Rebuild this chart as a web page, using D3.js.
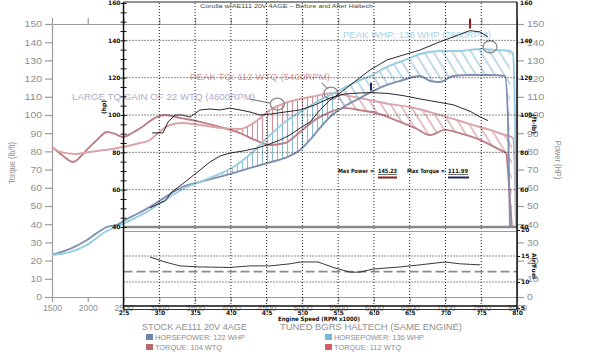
<!DOCTYPE html>
<html><head><meta charset="utf-8">
<script src="https://cdn.jsdelivr.net/npm/d3@7"></script>
<style>body{margin:0;background:#fff;} svg{display:block;}</style>
</head><body><svg id="c" width="600" height="355"></svg>
<script>
// ---------- DATA ----------
const rpmTicks = d3.range(1500, 8001, 500);
const bgTicks = d3.range(0, 151, 10);
const ovHpTicks = d3.range(40, 161, 20);
const ovMinorTicks = d3.range(40, 161, 5);
const ovRpmTicks = d3.range(2500, 8001, 500);
const afrTicks = [20, 15, 10, 5];

// background (before/after) curves: [rpm, value]
const stockTorque = [[1500,82.4],[1640,78],[1794,74.2],[1989,81],[2129,86.3],[2269,90.7],[2381,89.6],[2492,87.9],[2618,90.1],[2758,93.4],[2940,98.4],[3080,100],[3289,98.4],[3569,96.2],[3848,93.4],[4128,90.1],[4338,86.3],[4547,83.5],[4757,84.6],[4967,90.7],[5176,97.3],[5386,101.6],[5596,103.8],[5805,102.7],[6085,100.5],[6365,96.2],[6574,92.9],[6784,89],[6993,91.8],[7231,89.6],[7483,86.3],[7762,80.8],[7846,79.1],[7902,53.3],[7930,37.9]];
const tunedTorque = [[1500,82.4],[1612,79.7],[1821,78.6],[2031,79.7],[2241,80.8],[2492,82.4],[2730,84.6],[2870,86.3],[2982,90.1],[3149,94.5],[3317,95.6],[3569,94.5],[3848,92.9],[4128,92.3],[4338,96.2],[4547,102.7],[4757,106.6],[4967,108.8],[5176,110.4],[5400,112],[5665,110.4],[5945,108.2],[6225,106],[6504,104.4],[6784,101.6],[7063,98.4],[7343,95],[7622,91.8],[7832,89],[7944,87.4],[7972,64.3],[7986,37.9]];
const stockHp = [[1500,23.1],[1752,26.4],[1989,31.3],[2171,36.3],[2269,38.5],[2409,39.6],[2520,42.3],[2688,45.6],[2870,49.5],[3080,54.9],[3359,61],[3569,63.2],[4030,68.1],[4505,73.6],[4757,76.4],[4967,80.8],[5106,86.3],[5246,92.9],[5386,98.9],[5596,104.9],[5805,109.3],[6015,113.7],[6183,116.5],[6365,118.7],[6644,121.4],[6784,118.7],[6923,118.1],[7105,121.4],[7343,122],[7622,122],[7832,121.4],[7874,97.3],[7902,37.9]];
const tunedHp = [[1500,23.1],[1752,24.7],[1989,28.6],[2241,35.7],[2520,40.7],[2870,47.8],[3080,53.3],[3359,59.9],[3709,65.4],[4058,72],[4338,80.8],[4547,89],[4757,96.2],[4967,101.6],[5246,108.2],[5526,113.7],[5735,118.1],[5945,121.4],[6183,126.4],[6434,130.2],[6644,133.5],[6923,135.2],[7203,135.2],[7483,136.3],[7692,135.7],[7902,135.2],[7944,133.5],[7972,97.3],[7986,37.9]];

// overlay dyno sheet curves
const dynoHp = [[2870,50.2],[3010,52.9],[3080,53.9],[3177,58.8],[3359,64.1],[3569,70.5],[3708,74.8],[3848,78],[3988,79.6],[4170,80.7],[4366,82.3],[4505,83.9],[4687,86.6],[4827,89.3],[4967,93],[5106,96.2],[5246,102.7],[5386,108],[5526,111.8],[5707,117.1],[5945,124.1],[6183,129.5],[6406,132.1],[6644,134.8],[6882,138.6],[7105,141.8],[7343,145.2],[7483,144.5],[7595,141.8]];
const dynoTq = [[2898,90.4],[3052,90.4],[3121,96.2],[3219,100],[3317,100],[3429,98.9],[3569,102.7],[3708,103.2],[3848,102.7],[3988,103.7],[4128,102.7],[4268,101.6],[4407,100],[4547,100.5],[4757,101.6],[4967,102.7],[5176,105.4],[5386,109.1],[5596,111.3],[5805,111.8],[5959,112],[6183,111.6],[6406,110.4],[6644,108.6],[6882,107],[7105,105.5],[7343,102],[7483,99],[7595,97]];
const afr = [[2870,14.8],[3080,13.85],[3289,13.1],[3569,12.9],[3988,12.8],[4268,13.1],[4547,13.1],[4827,13.5],[4967,13.85],[5218,13.85],[5456,12.7],[5666,11.9],[5805,11.9],[5987,12.5],[6365,12.9],[6644,13.3],[6993,13.85],[7203,13.5],[7483,13.3]];
const afrRef = [15, 10];
const afrTarget = 12;

const maxPower = {rpm: 7343, value: 145.23, text: "145.23"};
const maxTorque = {rpm: 5959, value: 111.99, text: "111.99"};
const peakCircles = [[4650,106],[5400,112],[7622,137.5]];

const notes = [
  {text: "LARGE TQ GAIN OF 22 WTQ (4600RPM)", color: "#b2aac8"},
  {text: "PEAK TQ: 112 WTQ (5400RPM)", color: "#d59ca0"},
  {text: "PEAK WHP: 136 WHP (7600RPM)", color: "#a6d3e6"}
];
const legendStock = [{label: "HORSEPOWER: 122 WHP", color: "#7283ab"}, {label: "TORQUE: 104 WTQ", color: "#b8686e"}];
const legendTuned = [{label: "HORSEPOWER: 136 WHP", color: "#76b8d9"}, {label: "TORQUE: 112 WTQ", color: "#d35e64"}];

// ---------- CHART ----------
const svg = d3.select("#c");
const x = d3.scaleLinear().domain([1500, 8000]).range([52, 517]);
const yBg = d3.scaleLinear().domain([0, 150]).range([297, 24]);
const yOv = d3.scaleLinear().domain([40, 160]).range([227, 3]);
const yAfr = d3.scaleLinear().domain([5.2, 20]).range([307, 230]);
const SANS = "Liberation Sans, Arial, sans-serif";
const BOLD = "DejaVu Sans, Verdana, sans-serif";
const GRAY = "#8e8e8e";

function txt(g, s, xx, yy, size, fill, len, opt) {
  opt = opt || {};
  const t = g.append("text").attr("x", xx).attr("y", yy).text(s)
    .attr("font-family", opt.family || SANS).attr("font-size", size).attr("fill", fill);
  if (opt.bold) t.attr("font-weight", "bold");
  if (opt.anchor) t.attr("text-anchor", opt.anchor);
  if (len) t.attr("textLength", len).attr("lengthAdjust", "spacingAndGlyphs");
  return t;
}

// patterns
const defs = svg.append("defs");
function pat(id, color, w, rot) {
  const p = defs.append("pattern").attr("id", id).attr("patternUnits", "userSpaceOnUse")
    .attr("width", w).attr("height", 10).attr("patternTransform", `rotate(${rot})`);
  p.append("line").attr("x1", w / 2).attr("x2", w / 2).attr("y1", -1).attr("y2", 11)
    .attr("stroke", color).attr("stroke-width", 1.1);
}
pat("rv", "#cf8f96", 5, 0); pat("rd", "#cf8f96", 8, -32);
pat("bv", "#8dbdd3", 5, 0); pat("bd", "#8dbdd3", 8, -32);

const areaBelow = d3.area().x(d => x(d[0])).y0(yBg(0)).y1(d => yBg(d[1])).curve(d3.curveMonotoneX);
const areaAbove = d3.area().x(d => x(d[0])).y0(0).y1(d => yBg(d[1])).curve(d3.curveMonotoneX);
defs.append("clipPath").attr("id", "underTT").append("path").attr("d", areaBelow(tunedTorque));
defs.append("clipPath").attr("id", "aboveST").append("path").attr("d", areaAbove(stockTorque));
defs.append("clipPath").attr("id", "underTH").append("path").attr("d", areaBelow(tunedHp));
defs.append("clipPath").attr("id", "aboveSH").append("path").attr("d", areaAbove(stockHp));

// background axes
const axG = svg.append("g");
const gL = axG.append("g").attr("transform", `translate(${x(1500)},0)`)
  .call(d3.axisLeft(yBg).tickValues(bgTicks).tickSize(7).tickSizeOuter(0).tickPadding(3));
const gR = axG.append("g").attr("transform", `translate(${x(8000)},0)`)
  .call(d3.axisRight(yBg).tickValues(bgTicks).tickSize(7).tickSizeOuter(0).tickPadding(3));
const gB = axG.append("g").attr("transform", `translate(0,${yBg(0)})`)
  .call(d3.axisBottom(x).tickValues(rpmTicks).tickSize(5).tickSizeOuter(0).tickPadding(3).tickFormat(d3.format("d")));
const gT = axG.append("g").attr("transform", `translate(0,${yBg(150)})`)
  .call(d3.axisTop(x).tickValues(rpmTicks).tickSize(6).tickSizeOuter(0).tickFormat(""));
axG.selectAll("path,line").attr("stroke", "#9c9c9c").attr("stroke-width", 1.2);
axG.selectAll("text").attr("font-family", SANS).attr("font-size", 9).attr("fill", GRAY)
  .each(function () { const n = this.textContent.length; d3.select(this).attr("textLength", n * 5.8).attr("lengthAdjust", "spacingAndGlyphs"); });
gB.selectAll("text").attr("textLength", 19);

txt(svg, "Torque (lb/ft)", 0, 0, 7.5, GRAY, null, {anchor: "middle"})
  .attr("transform", "translate(15,163) rotate(-90) scale(1,1.3)");
txt(svg, "Power (HP)", 0, 0, 7.5, GRAY, null, {anchor: "middle"})
  .attr("transform", "translate(555,160) rotate(90) scale(1,1.3)");

// hatch areas
function hatch(under, above, patL, patR) {
  const g1 = svg.append("g").attr("clip-path", `url(#${under})`);
  const g2 = g1.append("g").attr("clip-path", `url(#${above})`);
  g2.append("rect").attr("x", x(2500)).attr("y", 0).attr("width", x(5480) - x(2500)).attr("height", yBg(0)).attr("fill", `url(#${patL})`);
  g2.append("rect").attr("x", x(5480)).attr("y", 0).attr("width", x(8000) - x(5480)).attr("height", yBg(0)).attr("fill", `url(#${patR})`);
}
hatch("underTT", "aboveST", "rv", "rd");
hatch("underTH", "aboveSH", "bv", "bd");

// background lines
const bgLine = d3.line().x(d => x(d[0])).y(d => yBg(d[1])).curve(d3.curveMonotoneX);
[[stockTorque, "#bd7e86"], [tunedTorque, "#d9a3a8"], [stockHp, "#7f90ae"], [tunedHp, "#9acce0"]].forEach(([d, c]) => {
  svg.append("path").attr("d", bgLine(d)).attr("fill", "none").attr("stroke", c).attr("stroke-width", 1.9);
});

// annotations (background layer)
txt(svg, notes[0].text, 72, 100, 9, notes[0].color, 183);
txt(svg, notes[1].text, 190, 80, 9, notes[1].color, 140);
txt(svg, notes[2].text, 343, 38, 9, notes[2].color, 148);
svg.selectAll("ellipse.pk").data(peakCircles).join("ellipse").attr("class", "pk")
  .attr("cx", d => x(d[0])).attr("cy", d => yBg(d[1])).attr("rx", 7).attr("ry", 6)
  .attr("fill", "none").attr("stroke", "#8a8a8a").attr("stroke-width", 1.3);
svg.append("line").attr("x1", x(4650) - 28).attr("y1", yBg(106) - 5).attr("x2", x(4650) - 7).attr("y2", yBg(106) - 1).attr("stroke", "#8a8a8a").attr("stroke-width", 1.2);
svg.append("line").attr("x1", x(5400) - 9).attr("y1", yBg(112) - 10).attr("x2", x(5400) - 4).attr("y2", yBg(112) - 5).attr("stroke", "#8a8a8a").attr("stroke-width", 1.2);

// ---------- OVERLAY DYNO SHEET ----------
const ov = svg.append("g");
const dot = {stroke: "#1a1a1a", w: 1, dash: "1,2"};
ov.selectAll("line.vg").data(ovRpmTicks.slice(1, -1)).join("line").attr("class", "vg")
  .attr("x1", d => x(d)).attr("x2", d => x(d)).attr("y1", yOv(160)).attr("y2", yAfr(5.2))
  .attr("stroke", dot.stroke).attr("stroke-width", dot.w).attr("stroke-dasharray", dot.dash);
ov.selectAll("line.hg").data(ovHpTicks.slice(1, -1)).join("line").attr("class", "hg")
  .attr("x1", x(2500)).attr("x2", x(8000)).attr("y1", d => yOv(d)).attr("y2", d => yOv(d))
  .attr("stroke", dot.stroke).attr("stroke-width", dot.w).attr("stroke-dasharray", dot.dash);
ov.selectAll("line.ag").data(afrRef).join("line").attr("class", "ag")
  .attr("x1", x(2500)).attr("x2", x(8000)).attr("y1", d => yAfr(d)).attr("y2", d => yAfr(d))
  .attr("stroke", dot.stroke).attr("stroke-width", dot.w).attr("stroke-dasharray", dot.dash);
ov.append("line").attr("x1", x(2500)).attr("x2", x(8000)).attr("y1", yAfr(afrTarget)).attr("y2", yAfr(afrTarget))
  .attr("stroke", "#8a8a8a").attr("stroke-width", 1.6).attr("stroke-dasharray", "9,4");
ov.append("line").attr("x1", x(2500)).attr("x2", x(8000)).attr("y1", yOv(40)).attr("y2", yOv(40)).attr("stroke", "#8a8a8a").attr("stroke-width", 2.6);
ov.append("line").attr("x1", x(2500)).attr("x2", x(8000)).attr("y1", yAfr(20) + 1.5).attr("y2", yAfr(20) + 1.5).attr("stroke", "#9a9a9a").attr("stroke-width", 1.2);
ov.append("line").attr("x1", x(2500)).attr("x2", x(8000)).attr("y1", 2).attr("y2", 2).attr("stroke", "#222").attr("stroke-width", 1.2);
ov.append("line").attr("x1", x(2500)).attr("x2", x(2500)).attr("y1", 2).attr("y2", yAfr(5.2) + 2).attr("stroke", "#111").attr("stroke-width", 1.5);
ov.append("line").attr("x1", x(8000)).attr("x2", x(8000)).attr("y1", 2).attr("y2", yAfr(5.2) + 2).attr("stroke", "#111").attr("stroke-width", 1.5);
ov.append("line").attr("x1", x(2500)).attr("x2", x(8000)).attr("y1", yAfr(5.2) - 1).attr("y2", yAfr(5.2) - 1).attr("stroke", "#111").attr("stroke-width", 1.5);
ov.append("line").attr("x1", x(2500)).attr("x2", x(8000)).attr("y1", yAfr(5.2) + 2.5).attr("y2", yAfr(5.2) + 2.5).attr("stroke", "#333").attr("stroke-width", 1);

// overlay axes
const oL = ov.append("g").attr("transform", `translate(${x(2500)},0)`)
  .call(d3.axisLeft(yOv).tickValues(ovHpTicks).tickSize(0).tickPadding(3));
const oLm = ov.append("g").attr("transform", `translate(${x(2500)},0)`)
  .call(d3.axisLeft(yOv).tickValues(ovMinorTicks).tickSize(3).tickFormat(""));
const oLm2 = ov.append("g").attr("transform", `translate(${x(2500)},0)`)
  .call(d3.axisRight(yOv).tickValues(ovMinorTicks).tickSize(3).tickFormat(""));
const oR = ov.append("g").attr("transform", `translate(${x(8000)},0)`)
  .call(d3.axisRight(yOv).tickValues(ovHpTicks).tickSize(0).tickPadding(3));
const oRa = ov.append("g").attr("transform", `translate(${x(8000)},0)`)
  .call(d3.axisRight(yAfr).tickValues(afrTicks).tickSize(3).tickPadding(1));
const oB = ov.append("g").attr("transform", `translate(0,${yAfr(5.2) + 2.5})`)
  .call(d3.axisBottom(x).tickValues(ovRpmTicks).tickSize(3).tickPadding(1).tickFormat(d => (d / 1000).toFixed(1)));
[oL, oLm, oLm2, oR, oRa, oB].forEach(g => g.select(".domain").remove());
[oL, oLm, oLm2, oR, oRa, oB].forEach(g => g.selectAll("line").attr("stroke", "#111"));
[oL, oR, oRa, oB].forEach(g => g.selectAll("text").attr("font-family", BOLD).attr("font-weight", "bold").attr("font-size", 6).attr("fill", "#111"));
oB.selectAll("text").attr("y", 1).attr("dy", "0.71em");

txt(ov, "(hp)", 0, 0, 6, "#111", null, {family: BOLD, bold: true, anchor: "middle"}).attr("transform", "translate(106,107) rotate(-90)");
txt(ov, "(ft-lb)", 0, 0, 6, "#111", null, {family: BOLD, bold: true, anchor: "middle"}).attr("transform", "translate(532,124) rotate(90)");
txt(ov, "Air/Fuel", 0, 0, 6, "#111", null, {family: BOLD, bold: true, anchor: "middle"}).attr("transform", "translate(532,266) rotate(90)");
txt(ov, "Corolla w/AE111 20V 4AGE – Before and After Haltech", 200, 8, 6, "#4a4a4a", 173);
txt(ov, "Engine Speed (RPM x1000)", 278, 321, 6, "#111", 82, {family: BOLD, bold: true});

// dyno curves
const ovLine = d3.line().x(d => x(d[0])).y(d => yOv(d[1]));
ov.append("path").attr("d", ovLine(dynoHp)).attr("fill", "none").attr("stroke", "#111").attr("stroke-width", 0.9);
ov.append("path").attr("d", ovLine(dynoTq)).attr("fill", "none").attr("stroke", "#111").attr("stroke-width", 0.9);
const afrLine = d3.line().x(d => x(d[0])).y(d => yAfr(d[1]));
ov.append("path").attr("d", afrLine(afr)).attr("fill", "none").attr("stroke", "#222").attr("stroke-width", 0.9);

// max markers
ov.append("line").attr("x1", x(maxPower.rpm)).attr("x2", x(maxPower.rpm)).attr("y1", yOv(maxPower.value) - 12).attr("y2", yOv(maxPower.value) - 2)
  .attr("stroke", "#a31818").attr("stroke-width", 2);
ov.append("line").attr("x1", x(maxTorque.rpm)).attr("x2", x(maxTorque.rpm)).attr("y1", yOv(maxTorque.value) - 10).attr("y2", yOv(maxTorque.value) - 2)
  .attr("stroke", "#1f2a66").attr("stroke-width", 2);

txt(ov, "Max Power =", 338, 173, 5.8, "#111", 36, {family: BOLD, bold: true});
txt(ov, maxPower.text, 378, 173, 5.8, "#111", 19, {family: BOLD, bold: true});
ov.append("line").attr("x1", 378).attr("x2", 397).attr("y1", 174.5).attr("y2", 174.5).attr("stroke", "#111").attr("stroke-width", 0.6);
ov.append("line").attr("x1", 378).attr("x2", 397).attr("y1", 177.5).attr("y2", 177.5).attr("stroke", "#8b1e1e").attr("stroke-width", 2);
txt(ov, "Max Torque =", 407, 173, 5.8, "#111", 38, {family: BOLD, bold: true});
txt(ov, maxTorque.text, 448, 173, 5.8, "#111", 20, {family: BOLD, bold: true});
ov.append("line").attr("x1", 448).attr("x2", 468).attr("y1", 174.5).attr("y2", 174.5).attr("stroke", "#111").attr("stroke-width", 0.6);
ov.append("line").attr("x1", 448).attr("x2", 469).attr("y1", 177.5).attr("y2", 177.5).attr("stroke", "#23245e").attr("stroke-width", 2);

// ---------- LEGEND ----------
txt(svg, "STOCK AE111 20V 4AGE", 142, 330, 8.5, GRAY, 105);
txt(svg, "TUNED BGRS HALTECH (SAME ENGINE)", 280, 330, 8.5, GRAY, 182);
function legend(items, lx, lens) {
  items.forEach((it, i) => {
    svg.append("rect").attr("x", lx).attr("y", 334 + i * 10).attr("width", 7).attr("height", 6).attr("fill", it.color);
    txt(svg, it.label, lx + 9, 340 + i * 10, 6.5, GRAY, lens[i]);
  });
}
legend(legendStock, 146, [90, 67]);
legend(legendTuned, 325, [90, 67]);
</script></body></html>
